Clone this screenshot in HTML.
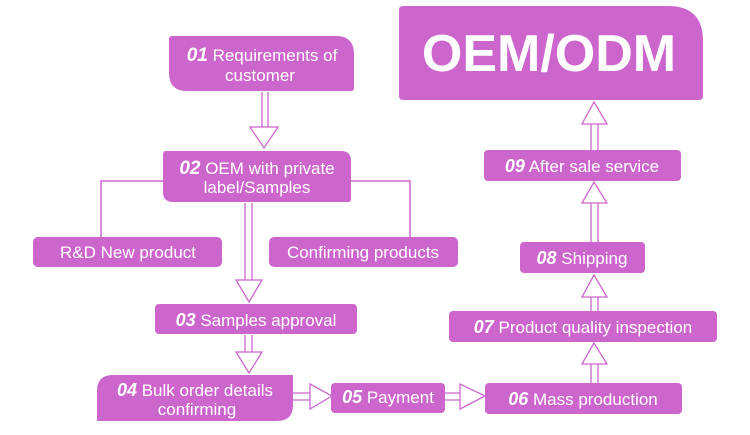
<!DOCTYPE html>
<html><head><style>html,body{margin:0;padding:0;background:#fff}</style></head>
<body>
<svg width="750" height="430" xmlns="http://www.w3.org/2000/svg" font-family="Liberation Sans, Arial, sans-serif">
<g fill="#cc66cc">
<path d="M172,36 H336 Q354,36 354,54 V88 Q354,91 351,91 H187 Q169,91 169,73 V39 Q169,36 172,36Z"/>
<path d="M166,151 H341 Q351,151 351,161 V199 Q351,202 348,202 H173 Q163,202 163,192 V154 Q163,151 166,151Z"/>
<rect x="33" y="237" width="189" height="30" rx="5"/>
<rect x="269" y="237" width="189" height="30" rx="5"/>
<rect x="155" y="304" width="202" height="30" rx="4"/>
<path d="M100,375 H293 V405 Q293,421 277,421 H97 V391 Q97,375 113,375Z"/>
<rect x="331" y="383" width="114" height="30" rx="4"/>
<rect x="485" y="383" width="197" height="31" rx="4"/>
<rect x="449" y="311" width="268" height="31" rx="4"/>
<rect x="520" y="242" width="125" height="31" rx="4"/>
<rect x="484" y="150" width="197" height="31" rx="4"/>
<path d="M399,10 Q399,6 403,6 H668 Q703,6 703,41 V96 Q703,100 699,100 H403 Q399,100 399,96Z"/>
</g>
<g fill="#fff" stroke="#cc66cc" stroke-width="1.3">
<path d="M262,92 V127 M268,92 V127" fill="none"/>
<polygon points="250,127 278,127 264,148"/>
<path d="M245,203 V280 M252,203 V280" fill="none"/>
<polygon points="236,280 262,280 249,302"/>
<path d="M245,335 V352 M252,335 V352" fill="none"/>
<polygon points="236,352 262,352 249,373"/>
<path d="M293,393 H310 M293,400 H310" fill="none"/>
<polygon points="310,384 310,409 332,396"/>
<path d="M445,393 H460 M445,400 H460" fill="none"/>
<polygon points="460,384 460,409 485,396"/>
<path d="M591,364 V383 M598,364 V383 M591,297 V311 M598,297 V311 M591,203 V242 M598,203 V242 M591,124 V150 M598,124 V150" fill="none"/>
<polygon points="582,364 607,364 594,343"/>
<polygon points="582,297 607,297 594,275"/>
<polygon points="582,203 607,203 594,182"/>
<polygon points="582,124 607,124 594,102"/>
<path d="M163,181 H101 V237 M351,181 H410 V237" fill="none" stroke-width="1.5"/>
</g>
<g fill="#fff" font-size="17" text-anchor="middle">
<text x="262" y="61"><tspan font-weight="bold" font-style="italic" font-size="19">01</tspan> Requirements of</text>
<text x="260" y="81">customer</text>
<text x="257" y="174"><tspan font-weight="bold" font-style="italic" font-size="19">02</tspan> OEM with private</text>
<text x="257" y="193">label/Samples</text>
<text x="128" y="258">R&amp;D New product</text>
<text x="363" y="258">Confirming products</text>
<text x="256" y="326"><tspan font-weight="bold" font-style="italic" font-size="18">03</tspan> Samples approval</text>
<text x="195" y="396"><tspan font-weight="bold" font-style="italic" font-size="18">04</tspan> Bulk order details</text>
<text x="197" y="415">confirming</text>
<text x="388" y="403"><tspan font-weight="bold" font-style="italic" font-size="18">05</tspan> Payment</text>
<text x="583" y="405"><tspan font-weight="bold" font-style="italic" font-size="18">06</tspan> Mass production</text>
<text x="583" y="333"><tspan font-weight="bold" font-style="italic" font-size="18">07</tspan> Product quality inspection</text>
<text x="582" y="264"><tspan font-weight="bold" font-style="italic" font-size="18">08</tspan> Shipping</text>
<text x="582" y="172"><tspan font-weight="bold" font-style="italic" font-size="18">09</tspan> After sale service</text>
<text x="549" y="71" font-size="52" font-weight="bold">OEM/ODM</text>
</g>
</svg>
</body></html>
